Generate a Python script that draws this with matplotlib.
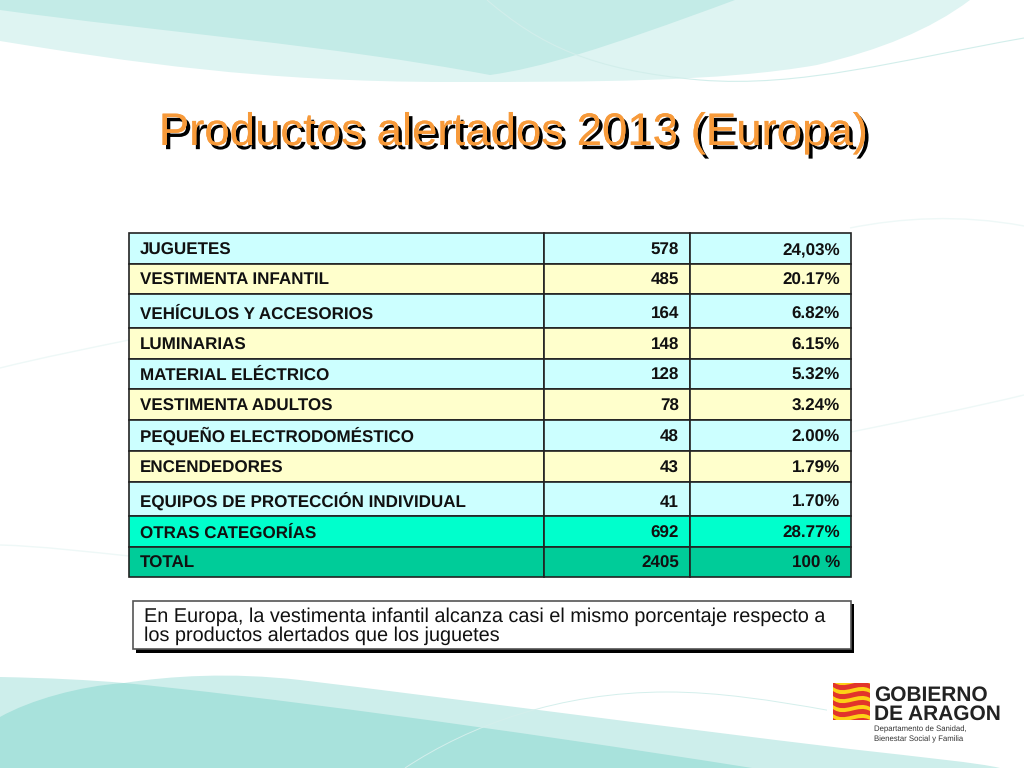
import matplotlib
matplotlib.use("Agg")
import matplotlib.pyplot as plt
import matplotlib.patheffects as pe
from matplotlib.patches import PathPatch, Rectangle
from matplotlib.path import Path

plt.rcParams['font.family'] = ['Liberation Sans', 'DejaVu Sans']
plt.rcParams['text.hinting'] = 'no_hinting'

categories = ["JUGUETES", "VESTIMENTA INFANTIL", "VEHÍCULOS Y ACCESORIOS", "LUMINARIAS",
              "MATERIAL ELÉCTRICO", "VESTIMENTA ADULTOS", "PEQUEÑO ELECTRODOMÉSTICO",
              "ENCENDEDORES", "EQUIPOS DE PROTECCIÓN INDIVIDUAL", "OTRAS CATEGORÍAS", "TOTAL"]
counts = ["578", "485", "164", "148", "128", "78", "48", "43", "41", "692", "2405"]
percents = ["24,03%", "20.17%", "6.82%", "6.15%", "5.32%", "3.24%", "2.00%", "1.79%",
            "1.70%", "28.77%", "100 %"]
row_colors = ["#ccffff", "#ffffcc", "#ccffff", "#ffffcc", "#ccffff", "#ffffcc", "#ccffff",
              "#ffffcc", "#ccffff", "#00ffcc", "#00cc99"]

title = "Productos alertados 2013 (Europa)"
note = ["En Europa, la vestimenta infantil alcanza casi el mismo porcentaje respecto a",
        "los productos alertados que los juguetes"]

# layout in pixels
row_edges = [233, 264, 294, 328, 359, 389, 420, 451, 482, 516, 547, 577]
col_edges = [129, 544, 690, 851]


def curve(ax, pts, color, z=1, closed=True, lw=0):
    # pts: start point then triples of bezier control points
    codes = [Path.MOVETO] + [Path.CURVE4] * (len(pts) - 1)
    if closed:
        pts = pts + [pts[0]]
        codes = codes + [Path.CLOSEPOLY]
    patch = PathPatch(Path(pts, codes), facecolor=color if closed else "none",
                      edgecolor=color if not closed else "none", lw=lw, zorder=z)
    ax.add_patch(patch)
    return patch


fig = plt.figure(figsize=(10.24, 7.68), dpi=100)
ax = fig.add_axes([0, 0, 1, 1])
ax.set_xlim(0, 1024)
ax.set_ylim(768, 0)
ax.axis("off")

# top waves
curve(ax, [(0, 0), (0, 0), (0, 41), (0, 41), (130, 62), (260, 82), (450, 82),
           (590, 82), (720, 82), (817, 65), (880, 50), (930, 30), (970, 0)], "#def4f2", 1)
curve(ax, [(0, 0), (0, 0), (0, 10), (0, 10), (160, 32), (330, 45), (490, 75),
           (540, 68), (600, 50), (735, 0)], "#c3ebe7", 2)
curve(ax, [(487, 0), (540, 45), (590, 70), (700, 80), (800, 88), (900, 60), (1024, 38)],
      "#d2eeeb", 3, closed=False, lw=0.8)

# bottom waves
curve(ax, [(0, 677), (50, 678), (90, 680), (124, 683), (170, 676), (230, 672), (300, 680),
           (450, 698), (650, 725), (850, 749), (920, 757), (980, 763), (1000, 768),
           (1000, 768), (0, 768), (0, 768)], "#cdeeeb", 1)
curve(ax, [(0, 717), (30, 700), (80, 686), (124, 683), (250, 695), (500, 728), (752, 768),
           (752, 768), (0, 768), (0, 768)], "#a8e2dc", 2)
curve(ax, [(405, 768), (470, 725), (560, 692), (667, 692), (770, 692), (880, 725), (1024, 742)],
      "#d4efec", 3, closed=False, lw=0.7)

# faint lines across the middle
curve(ax, [(850, 228), (900, 218), (960, 214), (1024, 226)], "#eef8f7", 1, closed=False, lw=1)
curve(ax, [(0, 368), (40, 358), (90, 348), (129, 340)], "#eef8f7", 1, closed=False, lw=1)
curve(ax, [(851, 432), (910, 420), (970, 408), (1024, 395)], "#eef8f7", 1, closed=False, lw=1)
curve(ax, [(0, 545), (40, 546), (90, 552), (129, 556)], "#eef8f7", 1, closed=False, lw=1)

# title
ax.text(513, 145, title, ha="center", va="baseline", fontsize=32.8, color="#f79a3a", zorder=6,
        path_effects=[pe.withSimplePatchShadow(offset=(2.5, -3), shadow_rgbFace="black", alpha=1),
                      pe.Normal()])

# table
for i, name in enumerate(categories):
    top, bottom = row_edges[i], row_edges[i + 1]
    base = bottom - 9
    for j in range(3):
        ax.add_patch(Rectangle((col_edges[j], top), col_edges[j + 1] - col_edges[j], bottom - top,
                               facecolor=row_colors[i], edgecolor="#222222", lw=1.2, zorder=4))
    ax.text(col_edges[0] + 11, base, name, ha="left", va="baseline", fontsize=12.25,
            fontweight="bold", color="#111111", zorder=5)
    ax.text(col_edges[2] - 11, base, counts[i], ha="right", va="baseline", fontsize=12.25,
            fontweight="bold", color="#111111", zorder=5)
    ax.text(col_edges[3] - 11, base, percents[i], ha="right", va="baseline", fontsize=12.25,
            fontweight="bold", color="#111111", zorder=5)

# note box
ax.add_patch(Rectangle((136, 604), 718, 49, facecolor="black", edgecolor="none", zorder=4))
ax.add_patch(Rectangle((133, 601), 718, 48, facecolor="white", edgecolor="#555555", lw=1.2, zorder=5))
ax.text(144, 622, note[0], ha="left", va="baseline", fontsize=14.27, color="#111111", zorder=6)
ax.text(144, 641, note[1], ha="left", va="baseline", fontsize=14.27, color="#111111", zorder=6)

# logo
ax.add_patch(Rectangle((827, 676), 197, 70, facecolor="white", edgecolor="none", zorder=3))
flag = Rectangle((833, 683), 37, 37, facecolor="#fdd116", edgecolor="none", zorder=4)
ax.add_patch(flag)
for y in [681, 690, 699, 708, 717]:
    band = curve(ax, [(833, y + 1), (845, y + 10), (858, y - 4), (870, y + 3),
                      (870, y + 3), (870, y + 8), (870, y + 8),
                      (858, y + 1), (845, y + 15), (833, y + 6)], "#e2352b", 5)
    band.set_clip_path(flag)
ax.text(874, 701, "GOBIERNO", ha="left", va="baseline", fontsize=15, fontweight="bold",
        color="#222222", zorder=5)
ax.text(874, 720, "DE ARAGON", ha="left", va="baseline", fontsize=15, fontweight="bold",
        color="#222222", zorder=5)
ax.text(874, 731, "Departamento de Sanidad,", ha="left", va="baseline", fontsize=5.6,
        color="#333333", zorder=5)
ax.text(874, 741, "Bienestar Social y Familia", ha="left", va="baseline", fontsize=5.6,
        color="#333333", zorder=5)

fig.savefig("out.png", dpi=100)
